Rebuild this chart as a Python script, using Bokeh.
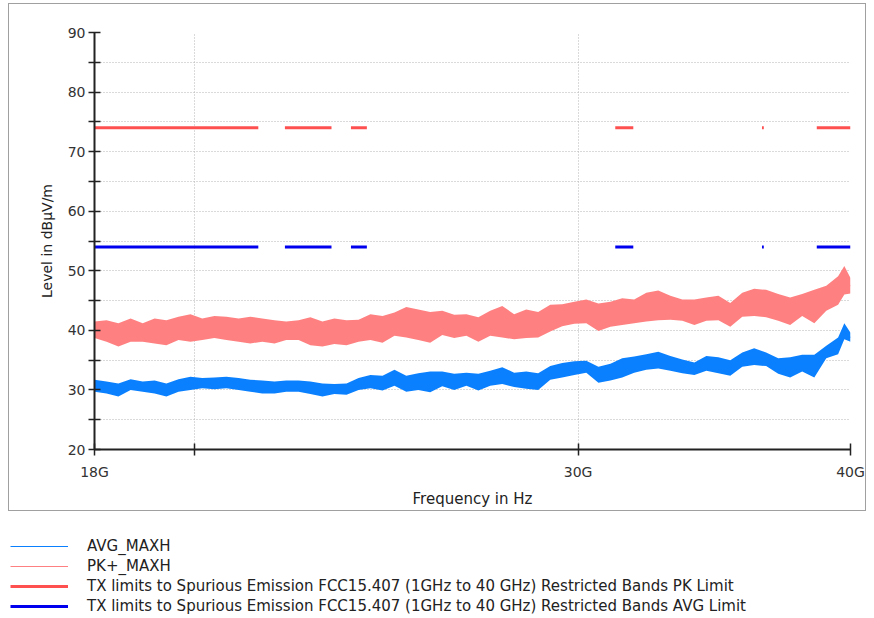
from bokeh.plotting import figure
from bokeh.layouts import column
from bokeh.models import Range1d, FixedTicker, Legend, LegendItem
from bokeh.embed import file_html
from bokeh.resources import INLINE

# ---------------- data ----------------
FREQ_GHZ = [18.00, 18.23, 18.46, 18.70, 18.94, 19.18, 19.42, 19.67, 19.92, 20.17,
            20.43, 20.69, 20.96, 21.22, 21.49, 21.77, 22.04, 22.33, 22.61, 22.90,
            23.19, 23.49, 23.79, 24.09, 24.40, 24.71, 25.02, 25.34, 25.66, 25.99,
            26.32, 26.66, 27.00, 27.34, 27.69, 28.04, 28.40, 28.76, 29.13, 29.50,
            29.88, 30.26, 30.65, 31.04, 31.43, 31.83, 32.24, 32.65, 33.07, 33.49,
            33.92, 34.35, 34.79, 35.23, 35.68, 36.13, 36.59, 37.06, 37.53, 38.01,
            38.50, 38.99, 39.48, 39.74, 40.00]

PK_HI = [41.5, 41.7, 41.2, 42.0, 41.2, 42.0, 41.7, 42.3, 42.7, 42.0,
         42.4, 42.3, 42.0, 42.3, 42.0, 41.7, 41.5, 41.7, 42.2, 41.5,
         42.0, 41.7, 41.8, 42.7, 42.4, 43.0, 43.9, 43.5, 43.1, 43.3,
         42.6, 42.7, 42.2, 43.3, 44.1, 42.7, 43.5, 43.1, 44.3, 44.4,
         44.8, 45.2, 44.5, 44.8, 45.4, 45.2, 46.3, 46.7, 45.8, 45.2,
         45.2, 45.5, 45.8, 44.6, 46.3, 47.0, 46.8, 46.1, 45.5, 46.1,
         46.8, 47.5, 49.1, 50.8, 48.8]
PK_LO = [38.7, 38.1, 37.3, 38.1, 38.1, 37.8, 37.5, 38.4, 38.1, 38.4,
         38.7, 38.4, 38.1, 37.8, 38.1, 37.8, 38.4, 38.4, 37.5, 37.3,
         37.7, 37.5, 38.1, 38.4, 37.9, 39.1, 38.8, 38.4, 37.9, 39.2,
         38.7, 39.1, 38.1, 39.1, 38.8, 38.5, 38.7, 38.8, 39.8, 40.7,
         41.1, 41.2, 39.9, 40.6, 40.9, 41.2, 41.5, 41.7, 41.8, 41.6,
         40.9, 41.6, 41.7, 40.6, 42.3, 42.4, 42.2, 41.6, 40.9, 42.4,
         41.2, 43.3, 44.3, 46.0, 46.2]

AV_HI = [31.7, 31.4, 31.1, 31.8, 31.4, 31.6, 31.1, 31.8, 32.2, 32.0,
         32.1, 32.2, 32.0, 31.7, 31.6, 31.4, 31.6, 31.6, 31.4, 31.1,
         31.0, 31.1, 32.0, 32.5, 32.4, 33.4, 32.4, 32.8, 33.1, 33.1,
         32.7, 32.9, 32.7, 33.2, 33.8, 32.9, 33.1, 32.8, 34.0, 34.5,
         34.8, 34.9, 33.9, 34.4, 35.3, 35.6, 36.0, 36.4, 35.7, 35.1,
         34.6, 35.7, 35.5, 35.0, 36.3, 37.0, 36.3, 35.3, 35.5, 35.9,
         35.9, 37.4, 38.8, 41.2, 39.6]
AV_LO = [29.7, 29.4, 28.9, 30.0, 29.7, 29.4, 28.9, 29.7, 30.0, 30.3,
         30.1, 30.3, 30.0, 29.7, 29.4, 29.4, 29.7, 29.7, 29.3, 28.9,
         29.3, 29.2, 30.0, 30.3, 29.9, 30.7, 29.7, 30.0, 29.6, 30.6,
         30.0, 30.7, 29.9, 30.7, 31.0, 30.5, 30.2, 30.0, 31.7, 32.1,
         32.5, 32.9, 31.2, 31.6, 32.1, 32.9, 33.4, 33.6, 33.2, 32.8,
         32.5, 33.2, 32.8, 32.4, 33.9, 34.2, 34.0, 32.7, 32.1, 33.1,
         32.1, 35.3, 36.0, 38.5, 38.1]

PK_LIMIT = 74.0
AVG_LIMIT = 54.0
BAND_START = [17.7, 22.01, 23.6, 31.2, 36.43, 38.6]
BAND_END = [21.4, 23.12, 24.0, 31.8, 36.5, 40.0]

X_TICKS = [18, 20, 30, 40]
X_TICK_LABELS = ["18G", "", "30G", "40G"]
Y_TICKS = [20, 25, 30, 35, 40, 45, 50, 55, 60, 65, 70, 75, 80, 85, 90]
Y_TICK_LABELS = ["20", "", "30", "", "40", "", "50", "", "60", "", "70", "", "80", "", "90"]

LEGEND_LABELS = [
    "AVG_MAXH",
    "PK+_MAXH",
    "TX limits to Spurious Emission FCC15.407 (1GHz to 40 GHz) Restricted Bands PK Limit",
    "TX limits to Spurious Emission FCC15.407 (1GHz to 40 GHz) Restricted Bands AVG Limit",
]

# ---------------- styles ----------------
FONT = "DejaVu Sans"
C_PK = "#ff8080"
C_AV = "#0a80ff"
C_PKL = "#ff5050"
C_AVL = "#0000ee"

# ---------------- chart ----------------
W, H = 858, 508
p = figure(width=W, height=H, x_axis_type="log",
           x_range=Range1d(18, 40), y_range=Range1d(20, 90),
           output_backend="svg", toolbar_location=None,
           min_border_left=85, min_border_right=17,
           min_border_top=28, min_border_bottom=63,
           margin=(3, 0, 0, 8),
           styles={"border": "1px solid #a0a0a0"})
p.frame_align = False
p.outline_line_color = None
p.background_fill_color = "white"
p.border_fill_color = "white"

pk_mid = [(a + b) / 2 for a, b in zip(PK_HI, PK_LO)]
av_mid = [(a + b) / 2 for a, b in zip(AV_HI, AV_LO)]
p.varea(x=FREQ_GHZ, y1=PK_LO, y2=PK_HI, fill_color=C_PK)
p.line(FREQ_GHZ, pk_mid, line_color=C_PK, line_width=1)
p.varea(x=FREQ_GHZ, y1=AV_LO, y2=AV_HI, fill_color=C_AV)
p.line(FREQ_GHZ, av_mid, line_color=C_AV, line_width=1)

p.multi_line(xs=[[s, e] for s, e in zip(BAND_START, BAND_END)],
             ys=[[PK_LIMIT, PK_LIMIT] for _ in BAND_START],
             line_color=C_PKL, line_width=3)
p.multi_line(xs=[[s, e] for s, e in zip(BAND_START, BAND_END)],
             ys=[[AVG_LIMIT, AVG_LIMIT] for _ in BAND_START],
             line_color=C_AVL, line_width=3)

for ax in (p.xaxis[0], p.yaxis[0]):
    ax.axis_line_color = "#222222"
    ax.axis_line_width = 2
    ax.major_tick_line_color = "#222222"
    ax.major_tick_line_width = 1.5
    ax.major_tick_in = 6
    ax.major_tick_out = 6
    ax.minor_tick_line_color = None
    ax.major_label_text_font = FONT
    ax.major_label_text_font_size = "14px"
    ax.major_label_text_color = "#333333"
    ax.axis_label_text_font = FONT
    ax.axis_label_text_font_size = "14px"
    ax.axis_label_text_font_style = "normal"
    ax.axis_label_text_color = "#222222"

p.xaxis.ticker = FixedTicker(ticks=X_TICKS)
p.xaxis.major_label_overrides = {t: l for t, l in zip(X_TICKS, X_TICK_LABELS)}
p.xaxis.axis_label = "Frequency in Hz"
p.xaxis.axis_label_text_font_size = "15px"
p.xaxis.major_label_standoff = 8
p.xaxis.axis_label_standoff = 7

p.yaxis.ticker = FixedTicker(ticks=Y_TICKS)
p.yaxis.major_label_overrides = {t: l for t, l in zip(Y_TICKS, Y_TICK_LABELS)}
p.yaxis.axis_label = "Level in dB\u00b5V/m"
p.yaxis.major_label_standoff = 3
p.yaxis.axis_label_standoff = 10

p.xgrid.ticker = FixedTicker(ticks=X_TICKS)
p.ygrid.ticker = FixedTicker(ticks=Y_TICKS)
for g in (p.xgrid[0], p.ygrid[0]):
    g.grid_line_color = "#b4b4b4"
    g.grid_line_dash = "1 2"
    g.grid_line_width = 1

# ---------------- legend panel ----------------
LH = 106
q = figure(width=874, height=LH, x_range=Range1d(0, 1), y_range=Range1d(0, 1),
           x_axis_location=None, y_axis_location=None,
           output_backend="svg", toolbar_location=None,
           min_border=0, min_border_left=0, min_border_right=0,
           min_border_top=0, min_border_bottom=0)
q.frame_align = False
q.xgrid.visible = False
q.ygrid.visible = False
q.outline_line_color = None
q.background_fill_color = "white"
q.border_fill_color = "white"

# legend sample renderers (kept outside the visible range of this panel)
l_av = q.line(x=[-2, -1], y=[-2, -2], line_color=C_AV, line_width=1)
l_pk = q.line(x=[-2, -1], y=[-2, -2], line_color=C_PK, line_width=1)
l_pkl = q.line(x=[-2, -1], y=[-2, -2], line_color=C_PKL, line_width=3)
l_avl = q.line(x=[-2, -1], y=[-2, -2], line_color=C_AVL, line_width=3)

legend = Legend(items=[LegendItem(label=LEGEND_LABELS[0], renderers=[l_av]),
                       LegendItem(label=LEGEND_LABELS[1], renderers=[l_pk]),
                       LegendItem(label=LEGEND_LABELS[2], renderers=[l_pkl]),
                       LegendItem(label=LEGEND_LABELS[3], renderers=[l_avl])],
                location=(10, LH - 25 - 80), orientation="vertical",
                glyph_width=58, glyph_height=20, label_height=20,
                label_standoff=19, spacing=0, padding=0, margin=0,
                border_line_color=None, background_fill_alpha=0,
                label_text_font=FONT, label_text_font_size="15px",
                label_text_color="#222222")
q.add_layout(legend)

layout = column(p, q)
open("out.html", "w").write(file_html(layout, INLINE))
